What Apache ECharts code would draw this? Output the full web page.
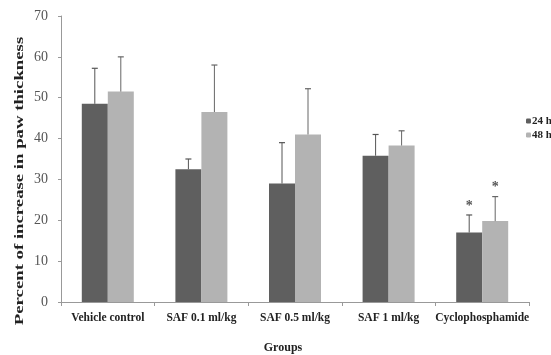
<!DOCTYPE html>
<html><head><meta charset="utf-8">
<script src="https://cdn.jsdelivr.net/npm/echarts@6/dist/echarts.min.js"></script>
<style>html,body{margin:0;padding:0;background:#fff}#c{width:551px;height:355px}</style>
</head><body><div id="c"></div>
<script>
const categories = ['Vehicle control', 'SAF 0.1 ml/kg', 'SAF 0.5 ml/kg', 'SAF 1 ml/kg', 'Cyclophosphamide'];
const h24 = [48.5, 32.5, 29, 35.8, 17];
const h48 = [51.5, 46.5, 41, 38.3, 19.8];
const err24 = [8.7, 2.5, 10, 5.2, 4.3];
const err48 = [8.5, 11.5, 11.2, 3.6, 6];
const sig24 = ['', '', '', '', '*'];
const sig48 = ['', '', '', '', '*'];
const yTicks = [0, 10, 20, 30, 40, 50, 60, 70];
const seriesNames = ['24 h', '48 h'];

const FONT = 'Liberation Serif';
const BW = 26;
function errItem(vals, errs, sigs, off, color) {
  return function (params, api) {
    const i = api.value(0);
    const top = vals[i] + errs[i];
    const base = api.coord([i, vals[i]]);
    const tp = api.coord([i, top]);
    const x = base[0] + off;
    const children = [
      {type: 'line', shape: {x1: x, y1: base[1], x2: x, y2: tp[1]}, style: {stroke: color, lineWidth: 1}},
      {type: 'line', shape: {x1: x - 3, y1: tp[1], x2: x + 3, y2: tp[1]}, style: {stroke: color, lineWidth: 1.2}}
    ];
    if (sigs[i]) {
      children.push({type: 'text', style: {text: sigs[i], x: x, y: tp[1] - 2, align: 'center', verticalAlign: 'bottom', font: 'bold 14px ' + FONT, fill: '#555'}});
    }
    return {type: 'group', children: children};
  };
}
const chart = echarts.init(document.getElementById('c'));
chart.setOption({
  animation: false,
  grid: {left: 61, right: 22, top: 16, bottom: 53},
  legend: {
    orient: 'vertical', left: 526, top: 115, itemWidth: 5, itemHeight: 5, itemGap: 2, padding: 0,
    textStyle: {fontFamily: FONT, fontWeight: 'bold', fontSize: 11, lineHeight: 12, color: '#222', padding: [0, 0, 0, -4]},
    data: seriesNames
  },
  xAxis: {
    type: 'category', data: categories,
    axisLine: {lineStyle: {color: '#999'}},
    axisTick: {show: true, length: 4, lineStyle: {color: '#999'}},
    axisLabel: {fontFamily: FONT, fontWeight: 'bold', fontSize: 11.5, color: '#222', margin: 10, interval: 0}
  },
  yAxis: {
    type: 'value', min: 0, max: 70, interval: 10,
    axisLine: {show: true, lineStyle: {color: '#999'}},
    axisTick: {show: true, length: 3, lineStyle: {color: '#999'}},
    splitLine: {show: false},
    axisLabel: {fontFamily: FONT, fontSize: 14, color: '#555', margin: 13,
      formatter: v => yTicks.includes(v) ? String(v) : ''}
  },
  graphic: [
    {type: 'text', rotation: Math.PI / 2, scaleX: 1.5, scaleY: 1,
      x: 20, y: 181, style: {text: 'Percent of increase in paw thickness', font: 'bold 12.5px ' + FONT, fill: '#222', align: 'center', verticalAlign: 'middle'}},
    {type: 'text', x: 283, y: 348, style: {text: 'Groups', font: 'bold 12px ' + FONT, fill: '#222', align: 'center', verticalAlign: 'middle'}}
  ],
  series: [
    {name: seriesNames[0], type: 'bar', data: h24, barWidth: BW, barGap: '0%', itemStyle: {color: '#5f5f5f'}},
    {name: seriesNames[1], type: 'bar', data: h48, barWidth: BW, barGap: '0%', itemStyle: {color: '#b3b3b3'}},
    {type: 'custom', data: h24.map((v, i) => [i, v]), renderItem: errItem(h24, err24, sig24, -BW / 2, '#555'), z: 5},
    {type: 'custom', data: h48.map((v, i) => [i, v]), renderItem: errItem(h48, err48, sig48, BW / 2, '#666'), z: 5}
  ]
});
</script></body></html>
